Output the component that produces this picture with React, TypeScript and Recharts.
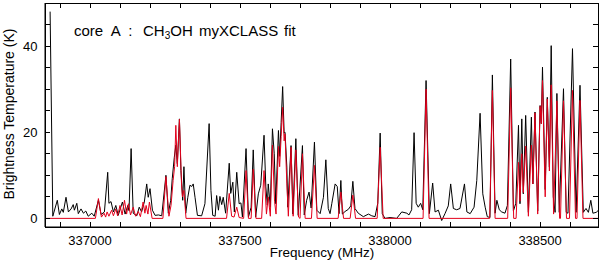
import { Line, LineChart, XAxis, YAxis } from 'recharts';

const OBS_FREQ = [
  336867, 336876, 336891, 336898, 336906, 336911, 336920, 336928, 336937, 336944, 336948, 336956, 336961, 336970,
  336978, 336986, 336994, 337006, 337014, 337028, 337037, 337048, 337059, 337063, 337070, 337078, 337086, 337094,
  337108, 337117, 337126, 337130, 337137, 337144, 337156, 337164, 337172, 337181, 337189, 337194, 337200, 337208,
  337217, 337228, 337239, 337253, 337261, 337269, 337274, 337281, 337286, 337291, 337298, 337303, 337309, 337313,
  337319, 337326, 337333, 337339, 337344, 337350, 337358, 337372, 337383, 337397, 337403, 337409, 337417, 337422,
  337428, 337433, 337439, 337444, 337452, 337464, 337469, 337476, 337481, 337489, 337497, 337503, 337508, 337520,
  337528, 337537, 337544, 337552, 337561, 337569, 337580, 337586, 337591, 337594, 337601, 337608, 337614, 337619,
  337628, 337632, 337637, 337642, 337647, 337650, 337656, 337659, 337670, 337676, 337686, 337694, 337708, 337714,
  337722, 337730, 337737, 337748, 337756, 337767, 337778, 337786, 337794, 337800, 337806, 337817, 337824, 337830,
  337836, 337841, 337850, 337861, 337869, 337876, 337883, 337894, 337911, 337928, 337939, 337950, 337959, 337967,
  337974, 337983, 338000, 338022, 338039, 338056, 338063, 338072, 338080, 338087, 338094, 338102, 338109, 338120,
  338131, 338142, 338150, 338161, 338172, 338183, 338194, 338202, 338211, 338222, 338233, 338248, 338256, 338267,
  338280, 338289, 338300, 338309, 338317, 338324, 338333, 338341, 338350, 338356, 338364, 338372, 338383, 338391,
  338402, 338411, 338419, 338428, 338433, 338439, 338444, 338452, 338461, 338471, 338476, 338483, 338492, 338500,
  338504, 338508, 338517, 338524, 338531, 338537, 338544, 338550, 338556, 338564, 338578, 338587, 338593, 338608,
  338620, 338633, 338644, 338653, 338661, 338669, 338676, 338687, 338693,
];
const OBS_TEMP = [
  48, 0.5, 4.2, 0.9, 2.2, 1.4, 4.9, 1.5, 2.2, 3.2, 1.9, 3.5, 1.1, 2.2,
  1.2, 1.7, 0.5, 1.2, 0.5, 4.2, 0.9, 1.5, 10.7, 3.5, 3.9, 1.5, 3, 0.7,
  3.8, 1, 3, 1.8, 16.2, 1.2, 0.6, 2.6, 1.5, 3.8, 8, 4.9, 6.9, 1.9,
  0.7, 0.8, 0.6, 10, 1.2, 4.2, 9.2, 14.2, 17, 12.7, 23.1, 11.1, 4.2, 12,
  1.2, 4.9, 7.7, 7.4, 8, 4.9, 0.7, 0.6, 3.4, 22, 6.5, 0.7, 0.5, 5.3,
  1.9, 5.1, 3.2, 4.9, 1.2, 12.8, 5.8, 8.4, 1.5, 10.7, 3.4, 3.6, 0.3, 16.2,
  0.3, 2.6, 15.9, 0.3, 5.7, 7.7, 19.3, 7.3, 3.1, 8, 2.6, 20.8, 15, 3.4,
  20.4, 14.4, 22.3, 30.6, 19.8, 20, 11.9, 2.6, 16.9, 1, 18.5, 0.7, 16.9, 0.8,
  4.2, 6.1, 2.4, 17.7, 1.9, 1.1, 4.9, 13.6, 2.3, 1.1, 3.5, 8, 7.4, 1.1,
  8.8, 1, 1.6, 2.1, 2.9, 8.6, 2.3, 1.2, 0.4, 1, 0.6, 0.4, 3.5, 19.8,
  1.1, 0, 0.2, 0, 1.5, 1.2, 0.8, 2, 19.9, 3.5, 2.6, 3.5, 2, 32,
  1.1, 8.2, 1.5, 1.9, -0.5, 1.1, 2.9, 8, 2.3, 2, 2.3, 8, 1.5, 1.1,
  2.6, 8.8, 24.4, 5.7, 2.6, 0.4, 0.2, 33.3, 1.2, 4.2, 2, 1.5, 1.2, 3,
  37, 1.7, 3.5, 21.6, 3.4, 23.1, 5.7, 23.9, 1.4, 23.5, 8, 24.7, 1.7, 26.2,
  22, 35.1, 6.7, 28.1, 11.9, 40.1, 5, 1.4, 29, 1.4, 30.1, 1.4, 1.2, 39.4,
  1.4, 30.9, 1.4, 2.3, 1.4, 4.2, 1.2, 1.4, 1.8,
];

// myXCLASS fit (red)
const FIT_FREQ = [
  336850, 337018, 337028, 337038, 337047, 337052, 337057, 337063, 337072, 337078, 337086, 337092, 337100, 337107,
  337115, 337122, 337128, 337135, 337144, 337152, 337161, 337168, 337177, 337183, 337187, 337193, 337198, 337207,
  337243, 337253, 337263, 337270, 337277, 337282, 337286, 337291, 337298, 337305, 337308, 337313, 337320, 337455,
  337464, 337472, 337480, 337489, 337497, 337512, 337520, 337528, 337537, 337544, 337553, 337572, 337580, 337588,
  337594, 337601, 337608, 337615, 337620, 337628, 337632, 337637, 337642, 337647, 337650, 337656, 337661, 337670,
  337677, 337686, 337695, 337700, 337708, 337717, 337738, 337748, 337757, 337827, 337836, 337845, 337867, 337876,
  337885, 337957, 337967, 337977, 338110, 338120, 338130, 338332, 338341, 338350, 338392, 338402, 338412, 338420,
  338428, 338433, 338439, 338444, 338452, 338461, 338471, 338476, 338483, 338492, 338500, 338504, 338508, 338517,
  338524, 338531, 338537, 338545, 338556, 338565, 338568, 338578, 338588, 338598, 338608, 338618, 338623, 338633,
  338643, 338693,
];
const FIT_TEMP = [
  0, 0, 4.6, 0.3, 1.2, 0.3, 1.5, 0.5, 1.9, 0.6, 2.2, 0.6, 3, 0.8,
  4.2, 1, 3.4, 0.8, 2.6, 0.5, 1.6, 0.4, 3.8, 1.2, 3, 1, 3.8, 0,
  0, 9.7, 0.5, 3, 8.8, 12, 21.6, 12, 23, 8, 5, 6.5, 0, 0,
  5.8, 0.5, 0.3, 2.6, 0.2, 0, 11.1, 0, 0, 11.4, 0, 0, 11.1, 1,
  5, 0.5, 17, 4, 1, 16.7, 12, 19, 25.8, 18, 19.6, 8, 0.5, 16.5,
  0.5, 15.9, 0.3, 0, 15, 0, 0, 12.3, 0, 0, 6.1, 0, 0, 5.4,
  0, 0, 16.5, 0, 0, 30, 0, 0, 29.7, 0, 0, 30.3, 0, 0,
  13, 4, 15, 6, 16.8, 0.5, 17, 8, 24.5, 1, 26, 22, 32, 5,
  27.7, 11, 31, 1, 27.3, 0, 0, 27.3, 0, 0, 29.7, 0, 0, 27.4,
  0, 0,
];

const FREQ_TICKS = [
  336900, 337000, 337100, 337200, 337300, 337400, 337500, 337600, 337700,
  337800, 337900, 338000, 338100, 338200, 338300, 338400, 338500, 338600,
];
const FREQ_LABELS = [337000, 337500, 338000, 338500];
const TEMP_TICKS = [0, 5, 10, 15, 20, 25, 30, 35, 40, 45];
const TEMP_LABELS = [0, 20, 40];

const F_MIN = 336850;
const F_MAX = 338693;
const T_MIN = -2;
const T_MAX = 50;

// plot box inside the 600x262 chart (margins + axis sizes below)
const BOX = { left: 45, right: 598, top: 3, bottom: 227 };
const TICK = 5;
const px = (f: number) => BOX.left + ((f - F_MIN) / (F_MAX - F_MIN)) * (BOX.right - BOX.left);
const py = (t: number) => BOX.bottom - ((t - T_MIN) / (T_MAX - T_MIN)) * (BOX.bottom - BOX.top);

const FONT = '"Liberation Sans", Arial, sans-serif';
const observed = OBS_FREQ.map((f, i) => ({ f, t: OBS_TEMP[i] }));
const fit = FIT_FREQ.map((f, i) => ({ f, t: FIT_TEMP[i] }));

function FreqTick({ x, y, payload }: any) {
  if (!FREQ_LABELS.includes(payload.value)) return <g />;
  return (
    <text x={x} y={y + 23} textAnchor="middle" fontSize={13} fontFamily={FONT} fill="#000">
      {payload.value}
    </text>
  );
}

function TempTick({ x, y, payload }: any) {
  if (!TEMP_LABELS.includes(payload.value)) return <g />;
  return (
    <text x={x - 12.5} y={y + 4.5} textAnchor="end" fontSize={13} fontFamily={FONT} fill="#000">
      {payload.value}
    </text>
  );
}

export default function App() {
  return (
    <div style={{ position: 'relative', width: 600, height: 262, background: '#fff' }}>
      <style>{'body{margin:0}'}</style>
      <LineChart width={600} height={262} margin={{ top: 3, right: 2, left: 0, bottom: 0 }}>
        <XAxis
          type="number"
          dataKey="f"
          domain={[F_MIN, F_MAX]}
          allowDataOverflow
          ticks={FREQ_TICKS}
          interval={0}
          height={35}
          tickSize={-5}
          tickMargin={0}
          tickLine={false}
          tick={<FreqTick />}
          stroke="#000"
        />
        <YAxis
          type="number"
          domain={[T_MIN, T_MAX]}
          allowDataOverflow
          ticks={TEMP_TICKS}
          interval={0}
          width={45}
          tickSize={-5}
          tickMargin={0}
          tickLine={false}
          tick={<TempTick />}
          stroke="#000"
        />
        <Line
          data={observed}
          dataKey="t"
          type="linear"
          stroke="#000"
          strokeWidth={1}
          dot={false}
          isAnimationActive={false}
        />
        <Line
          data={fit}
          dataKey="t"
          type="linear"
          stroke="#e3001b"
          strokeWidth={1}
          dot={false}
          isAnimationActive={false}
        />
      </LineChart>
      <svg
        width={600}
        height={262}
        style={{ position: 'absolute', left: 0, top: 0, pointerEvents: 'none' }}
        fontFamily={FONT}
        fill="#000"
      >
        {/* frame with inward ticks on all four sides */}
        <g stroke="#000" strokeWidth={1} shapeRendering="crispEdges">
          <rect
            x={BOX.left}
            y={BOX.top}
            width={BOX.right - BOX.left}
            height={BOX.bottom - BOX.top}
            fill="none"
          />
          {FREQ_TICKS.map((f) => (
            <g key={`f${f}`}>
              <line x1={px(f)} x2={px(f)} y1={BOX.bottom} y2={BOX.bottom - TICK} />
              <line x1={px(f)} x2={px(f)} y1={BOX.top} y2={BOX.top + TICK} />
            </g>
          ))}
          {TEMP_TICKS.map((t) => (
            <g key={`t${t}`}>
              <line x1={BOX.left} x2={BOX.left + TICK} y1={py(t)} y2={py(t)} />
              <line x1={BOX.right} x2={BOX.right - TICK} y1={py(t)} y2={py(t)} />
            </g>
          ))}
        </g>
        <text x={74} y={36} fontSize={15} style={{ whiteSpace: 'pre' }}>core  A  :</text>
        <text x={143} y={36} fontSize={15}>
          CH<tspan dy={3} fontSize={10}>3</tspan>
          <tspan dy={-3}>OH</tspan>
        </text>
        <text x={199} y={36} fontSize={15}>myXCLASS</text>
        <text x={284} y={36} fontSize={15}>fit</text>
        <text x={322} y={257} fontSize={13.5} textAnchor="middle">Frequency (MHz)</text>
        <text x={14} y={114} fontSize={14} textAnchor="middle" transform="rotate(-90, 14, 114)">
          Brightness Temperature (K)
        </text>
      </svg>
    </div>
  );
}
